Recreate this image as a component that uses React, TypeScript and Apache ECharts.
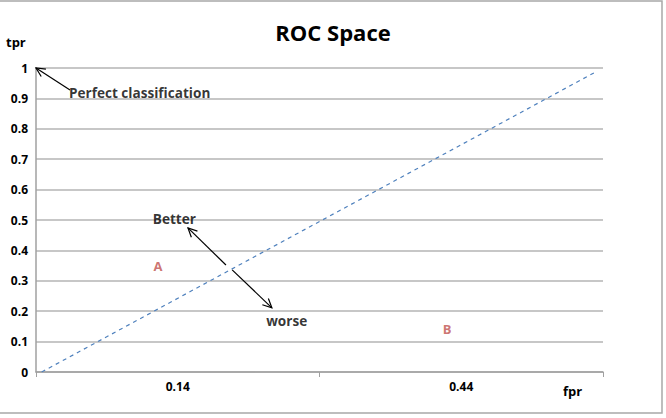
import React, { useEffect, useRef } from "react";
import * as echarts from "echarts";

const categories = ["0.14", "0.44"];
const yTicks = [0, 0.1, 0.2, 0.3, 0.4, 0.5, 0.6, 0.7, 0.8, 0.9, 1];
// dashed diagonal (random-guess line) in fpr/tpr space
const diagonal = [
  [0.01, 0],
  [0.99, 0.99],
];
// labelled points: [fpr, tpr, label]
const points: [number, number, string][] = [
  [0.215, 0.349, "A"],
  [0.725, 0.141, "B"],
];
// arrows: [fromX, fromY, toX, toY]
const arrows = [
  [0.06, 0.928, 0.0, 1.0],
  [0.335, 0.352, 0.268, 0.474],
  [0.346, 0.336, 0.416, 0.211],
];
// text annotations: [x, y, text]
const notes: [number, number, string][] = [
  [0.058, 0.918, "Perfect classification"],
  [0.206, 0.505, "Better"],
  [0.406, 0.171, "worse"],
];

const FONT = "'Open Sans', 'Noto Sans', sans-serif";

export default function App() {
  const ref = useRef<HTMLDivElement>(null);
  useEffect(() => {
    if (!ref.current) return;
    const chart = echarts.init(ref.current, null, { renderer: "svg" });
    chart.setOption({
      animation: false,
      backgroundColor: "#ffffff",
      textStyle: { fontFamily: FONT },
      title: {
        text: "ROC Space",
        left: "center",
        top: 16,
        textStyle: { fontSize: 22, fontWeight: "bold", color: "#000", fontFamily: FONT },
      },
      graphic: [
        {
          type: "rect",
          shape: { x: -2, y: 1, width: 664, height: 412 },
          style: { fill: "none", stroke: "#a8a8a8", lineWidth: 1.5 },
          silent: true,
        },
        {
          type: "text",
          left: 6,
          top: 35,
          style: { text: "tpr", fontSize: 13, fontWeight: "bold", fill: "#000", fontFamily: FONT },
        },
        {
          type: "text",
          left: 563,
          top: 384,
          style: { text: "fpr", fontSize: 13, fontWeight: "bold", fill: "#000", fontFamily: FONT },
        },
      ],
      grid: { left: 36, right: 63, top: 68, bottom: 46 },
      xAxis: [
        {
          type: "category",
          data: categories,
          boundaryGap: true,
          axisLine: { lineStyle: { color: "#a0a0a0", width: 1.5 } },
          axisTick: { show: true, length: 5, lineStyle: { color: "#a0a0a0" } },
          axisLabel: { fontSize: 12, fontWeight: "bold", color: "#000", margin: 8, fontFamily: FONT },
          splitLine: { show: false },
        },
        { type: "value", min: 0, max: 1, show: false, splitLine: { show: false } },
      ],
      yAxis: {
        type: "value",
        min: 0,
        max: 1,
        interval: 0.1,
        axisLine: { show: true, lineStyle: { color: "#a0a0a0", width: 1.5 } },
        axisTick: { show: false },
        axisLabel: {
          fontSize: 12,
          fontWeight: "bold",
          color: "#000",
          margin: 8,
          fontFamily: FONT,
          formatter: (v: number) => {
            const t = yTicks.find((y) => Math.abs(y - v) < 1e-6);
            return t === undefined ? "" : String(t);
          },
        },
        splitLine: { show: true, lineStyle: { color: "#b4b4b4", width: 1.5 } },
      },
      series: [
        {
          type: "line",
          xAxisIndex: 1,
          data: diagonal,
          symbol: "none",
          lineStyle: { color: "#4f81bd", width: 1.2, type: [4, 4] },
          z: 3,
        },
        {
          type: "scatter",
          xAxisIndex: 1,
          data: points.map((p) => ({ value: [p[0], p[1]], name: p[2] })),
          symbolSize: 0,
          label: {
            show: true,
            position: "inside",
            formatter: (p: any) => p.name,
            color: "#c0504d",
            fontSize: 13,
            fontWeight: "bold",
            fontFamily: FONT,
          },
          z: 4,
        },
        {
          type: "scatter",
          xAxisIndex: 1,
          data: notes.map((n) => ({ value: [n[0], n[1]], name: n[2] })),
          symbolSize: 0,
          label: {
            show: true,
            position: "right",
            distance: 0,
            formatter: (p: any) => p.name,
            color: "#000",
            fontSize: 13.6,
            fontWeight: "bold",
            fontFamily: FONT,
          },
          z: 5,
        },
        {
          type: "custom",
          xAxisIndex: 1,
          data: arrows,
          z: 6,
          renderItem: (params: any, api: any) => {
            const a = api.coord([api.value(0), api.value(1)]);
            const b = api.coord([api.value(2), api.value(3)]);
            const ang = Math.atan2(b[1] - a[1], b[0] - a[0]);
            const L = 10;
            const h1 = [b[0] - L * Math.cos(ang - 0.45), b[1] - L * Math.sin(ang - 0.45)];
            const h2 = [b[0] - L * Math.cos(ang + 0.45), b[1] - L * Math.sin(ang + 0.45)];
            const st = { stroke: "#000", lineWidth: 1.2, fill: "none" };
            return {
              type: "group",
              children: [
                { type: "line", shape: { x1: a[0], y1: a[1], x2: b[0], y2: b[1] }, style: st },
                { type: "polyline", shape: { points: [h1, b, h2] }, style: st },
              ],
            };
          },
        },
      ],
    });
    return () => chart.dispose();
  }, []);
  return (
    <div
      ref={ref}
      style={{ position: "fixed", left: 0, top: 0, width: 666, height: 418 }}
    />
  );
}
